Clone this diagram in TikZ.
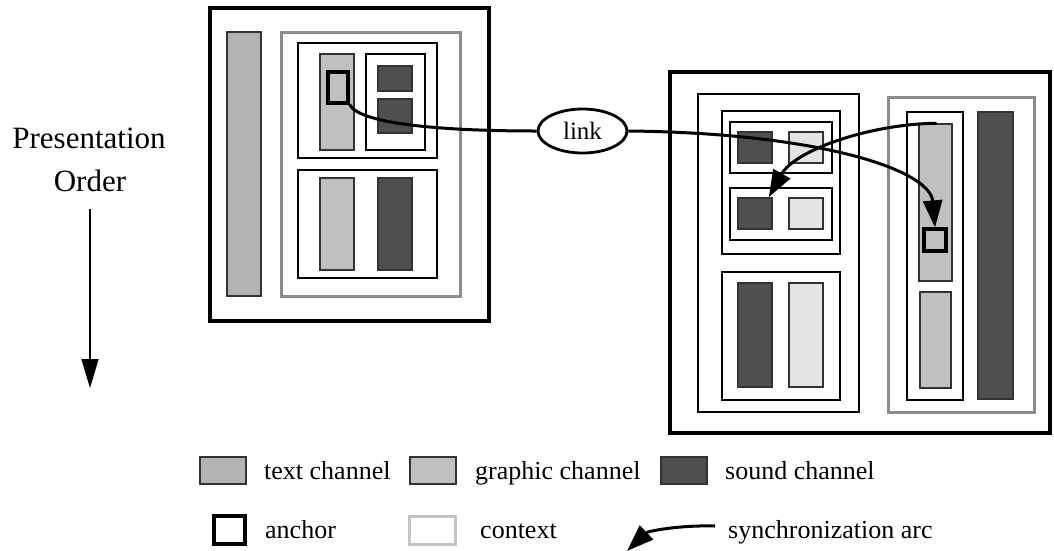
\documentclass[tikz,border=0pt]{standalone}
\usepackage{fontspec}
\setmainfont{Liberation Serif}
\usetikzlibrary{arrows.meta,shapes.geometric}
\definecolor{textch}{HTML}{B3B3B3}
\definecolor{graphch}{HTML}{C0C0C0}
\definecolor{soundch}{HTML}{4F4F4F}
\definecolor{ctxfill}{HTML}{E4E4E4}
\definecolor{grayframe}{HTML}{8C8C8C}
\definecolor{ctxframe}{HTML}{C4C4C4}
\begin{document}
\begin{tikzpicture}[x=1pt,y=-1pt,
  page/.style={draw=black,line width=3.2pt},
  group/.style={draw=black,line width=1.5pt},
  parbox/.style={draw=grayframe,line width=3pt},
  textbar/.style={draw=black!80,fill=textch,line width=1.5pt},
  graphbar/.style={draw=black!80,fill=graphch,line width=1.5pt},
  soundbar/.style={draw=black!80,fill=soundch,line width=1.5pt},
  ctxbar/.style={draw=black!80,fill=ctxfill,line width=1.5pt},
  anchorbox/.style={draw=black,fill=graphch,line width=3.2pt,inner sep=0pt},
  linkarc/.style={draw=black,line width=3pt},
  tip/.style={-{Triangle[length=27pt,width=19pt]}},
  lbl/.style={font=\fontsize{26}{30}\selectfont,anchor=base west,inner sep=0pt},
]
\useasboundingbox (0,0) rectangle (1054,550);

% ---- presentation order axis ----
\node[font=\fontsize{31}{36}\selectfont,anchor=base,inner sep=0pt] (pres) at (89,148) {Presentation};
\node[font=\fontsize{31}{36}\selectfont,anchor=base,inner sep=0pt] (ord) at (90,191) {Order};
\coordinate (axtop) at (90,209);
\coordinate (axend) at (90,388);
\draw[line width=1.5pt,-{Triangle[length=29pt,width=17pt]}] (axtop) -- (axend);

% ---- source document ----
\draw[page] (210,8) rectangle (489,321);
\draw[textbar] (227,32) rectangle (261,296);
\draw[parbox] (281,32) rectangle (460,296);
\draw[group] (298,43) rectangle (437,158);
\draw[graphbar] (320,54) rectangle (354,150);
\node[anchorbox,minimum width=20pt,minimum height=31pt] (srcanchor) at (338,87.5) {};
\draw[group] (366,54) rectangle (425,150);
\draw[soundbar] (378,66) rectangle (412,91);
\draw[soundbar] (378,99) rectangle (412,133);
\draw[group] (298,170) rectangle (437,278);
\draw[graphbar] (320,178) rectangle (354,270);
\draw[soundbar] (378,178) rectangle (412,270);

% ---- destination document ----
\draw[page] (670,72) rectangle (1050,433);
\draw[group] (698,94) rectangle (859,412);
\draw[group] (722,111) rectangle (840,254);
\draw[group] (730,122) rectangle (832,173);
\draw[soundbar] (738,132) rectangle (772,163);
\draw[ctxbar] (789,132) rectangle (823,163);
\draw[group] (730,188) rectangle (832,240);
\node[soundbar,inner sep=0pt,minimum width=34pt,minimum height=31pt] (synctarget) at (755,213.5) {};
\draw[ctxbar] (789,198) rectangle (823,229);
\draw[group] (722,272) rectangle (840,400);
\draw[soundbar] (738,283) rectangle (772,387);
\draw[ctxbar] (789,283) rectangle (823,387);
\draw[parbox] (888,97) rectangle (1034,412);
\draw[group] (907,112) rectangle (963,400);
\node[graphbar,inner sep=0pt,minimum width=33pt,minimum height=157pt] (syncsource) at (935.5,202.5) {};
\node[anchorbox,minimum width=22pt,minimum height=22pt] (dstanchor) at (935,240) {};
\draw[graphbar] (920,292) rectangle (951,388);
\draw[soundbar] (978,112) rectangle (1013,399);

% ---- link ----
\node[ellipse,draw=black,line width=2.8pt,minimum width=89pt,minimum height=44pt,inner sep=0pt,
      font=\fontsize{25}{30}\selectfont] (link) at (582.5,131) {link};
\draw[linkarc] (srcanchor.south east) .. controls (360,125) and (450,131) .. (link.west);
\draw[linkarc,tip] (link.east) .. controls (820,133) and (930,170) .. (dstanchor.north);

% ---- synchronization arc ----
\draw[linkarc,tip] ([xshift=1pt]syncsource.north) .. controls (870,124) and (795,150) .. ([xshift=-4pt]synctarget.north east);

% ---- legend ----
\draw[textbar] (200,457) rectangle (246,484);
\node[lbl] (ltext) at (264,479) {text channel};
\draw[graphbar] (410,457) rectangle (456,484);
\node[lbl] (lgraph) at (475,479) {graphic channel};
\draw[soundbar] (661,457) rectangle (707,484);
\node[lbl] (lsound) at (725,479) {sound channel};
\draw[draw=black,line width=3.2pt] (214,516) rectangle (245,544);
\node[lbl] (lanchor) at (265,538) {anchor};
\draw[draw=ctxframe,line width=3pt] (409,516) rectangle (455,544);
\node[lbl] (lctx) at (480,538) {context};
\coordinate (sa) at (715,526);
\coordinate (sb) at (627,551);
\draw[linkarc,tip] (sa) .. controls (680,525) and (648,531) .. (sb);
\node[lbl] (lsync) at (728,538) {synchronization arc};
\end{tikzpicture}
\end{document}
